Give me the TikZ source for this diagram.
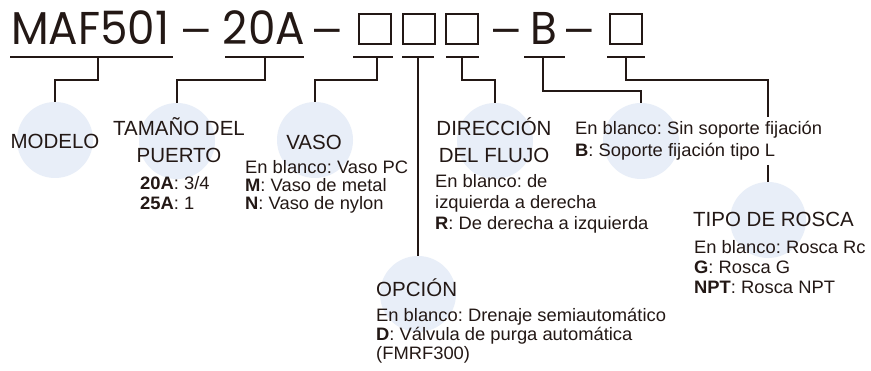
\documentclass[tikz,border=0pt]{standalone}
\usepackage{fontspec}
\setmainfont{Liberation Sans}
\newfontfamily\headfont[FakeStretch=0.95]{Poppins}
\newfontfamily\bodyfont[FakeStretch=1.02]{Liberation Sans}
\definecolor{ink}{HTML}{231815}
\definecolor{bub}{RGB}{232,238,248}
\frenchspacing
\begin{document}
\begin{tikzpicture}[x=1pt,y=-1pt,
  head/.style={font=\headfont\fontsize{46}{46}\selectfont, text=ink, inner sep=0, anchor=base},
  hyph/.style={font=\fontsize{46}{46}\selectfont, text=ink, inner sep=0, anchor=base},
  ttl/.style={font=\fontsize{20.5}{20.5}\selectfont, text=ink, inner sep=0, anchor=base},
  txt/.style={font=\bodyfont\fontsize{18}{18}\selectfont\frenchspacing, text=ink, inner sep=0, anchor=base west},
  bubble/.style={circle, fill=bub, minimum size=76pt, inner sep=0},
  slot/.style={draw=ink, line width=2pt, minimum width=32pt, minimum height=30pt, inner sep=0},
  ul/.style={draw=ink, line width=1.4pt},
  conn/.style={draw=ink, line width=1.3pt}]
\useasboundingbox (0,0) rectangle (871,371);
\fill[white] (0,0) rectangle (871,371);
% header
\node[head] (hM) at (90,45) {MAF501};
\node[hyph] (d1) at (196,43) {–};
\node[head] (h20) at (264,45) {20A};
\node[hyph] (d2) at (327.5,43) {–};
\node[slot] (s1) at (375,29) {};
\node[slot] (s2) at (418.5,29) {};
\node[slot] (s3) at (461.5,29) {};
\node[hyph] (d3) at (506.5,43) {–};
\node[head] (hB) at (544,45) {B};
\node[hyph] (d4) at (579.5,43) {–};
\node[slot] (s4) at (626,29) {};
% underlines
\draw[ul] (10,57) -- (173,57);
\draw[ul] (225,57) -- (304,57);
\draw[ul] (353,57) -- (393,57);
\draw[ul] (402,57) -- (434,57);
\draw[ul] (446,57) -- (479,57);
\draw[ul] (524,57) -- (565,57);
\draw[ul] (607,57) -- (645,57);
\coordinate (u1) at (98,57);
\coordinate (u2) at (265,57);
\coordinate (u3) at (377,57);
\coordinate (u4) at (418,57);
\coordinate (u5) at (462,57);
\coordinate (u6) at (543,57);
\coordinate (u7) at (626,57);
\coordinate (k7) at (768,117);
\coordinate (k8) at (768,165);
% bubbles
\node[bubble] (bModel) at (55,140) {};
\node[bubble] (bPort) at (177,141) {};
\node[bubble] (bVaso) at (315,140) {};
\node[bubble] (bDir) at (495,141) {};
\node[bubble] (bB) at (641,141) {};
\node[bubble] (bRos) at (768,220) {};
\node[bubble] (bOpc) at (418,294) {};
% connectors
\draw[conn] (u1) -- ++(0,23) -| (bModel.north);
\draw[conn] (u2) -- ++(0,23) -| (bPort.north);
\draw[conn] (u3) -- ++(0,23) -| (bVaso.north);
\draw[conn] (u4) -- (bOpc.north);
\draw[conn] (u5) -- ++(0,23) -| (bDir.north);
\draw[conn] (u6) -- ++(0,34) -| (bB.north);
\draw[conn] (u7) -- ++(0,23) -| (k7);
\draw[conn] (k8) -- (bRos.north);
% texts
\node[ttl] (tModel) at (55,149) {MODELO};
\node[ttl] (tPort1) at (179,136) {TAMAÑO DEL};
\node[ttl] (tPort2) at (179,163) {PUERTO};
\node[txt] (p1) at (140,190) {\textbf{20A}: 3/4};
\node[txt] (p2) at (140,210) {\textbf{25A}: 1};
\node[ttl] (tVaso) at (314,150) {VASO};
\node[txt] (v1) at (245,174) {En blanco: Vaso PC};
\node[txt] (v2) at (245,192) {\textbf{M}: Vaso de metal};
\node[txt] (v3) at (245,210) {\textbf{N}: Vaso de nylon};
\node[ttl] (tDir1) at (494,136) {DIRECCIÓN};
\node[ttl] (tDir2) at (494,163) {DEL FLUJO};
\node[txt] (r1) at (435,188) {En blanco: de};
\node[txt] (r2) at (435,209) {izquierda a derecha};
\node[txt] (r3) at (435,230) {\textbf{R}: De derecha a izquierda};
\node[txt] (f1) at (575,135) {En blanco: Sin soporte fijación};
\node[txt] (f2) at (575,157) {\textbf{B}: Soporte fijación tipo L};
\node[ttl,anchor=base west] (tRos) at (693,227) {TIPO DE ROSCA};
\node[txt] (g1) at (694,254) {En blanco: Rosca Rc};
\node[txt] (g2) at (694,274) {\textbf{G}: Rosca G};
\node[txt] (g3) at (694,294) {\textbf{NPT}: Rosca NPT};
\node[ttl,anchor=base west] (tOpc) at (376,297) {OPCIÓN};
\node[txt] (o1) at (376,322) {En blanco: Drenaje semiautomático};
\node[txt] (o2) at (376,341) {\textbf{D}: Válvula de purga automática};
\node[txt] (o3) at (376,360) {(FMRF300)};
\end{tikzpicture}
\end{document}
